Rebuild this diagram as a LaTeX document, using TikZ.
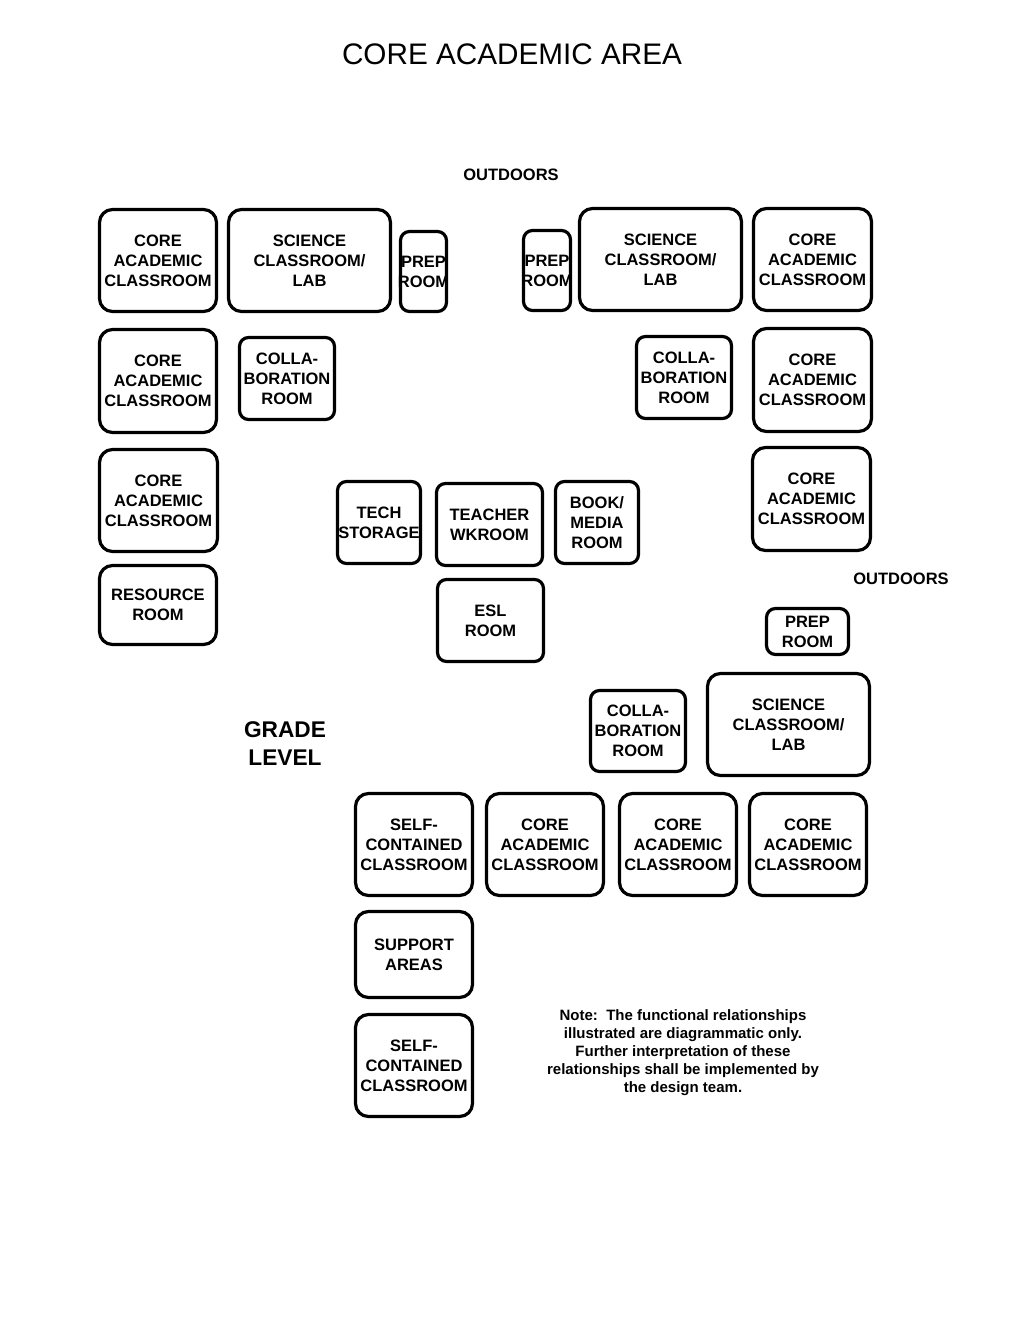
\documentclass[tikz,border=0pt]{standalone}
\usepackage{fontspec}
\setmainfont{Liberation Sans}

\begin{document}
\begin{tikzpicture}[
            x = 1pt, y = -1pt, % one unit = one pixel of the plan
            line width = 3.2pt, % line style
            every node/.style = {
                align = center,
                inner sep = 0pt,
                font = \bfseries\fontsize{16.5}{20}\selectfont
            }
        ]

        \tikzstyle{room}=[
            draw = black,
            rounded corners = 13pt,
            minimum width = 117pt,
            minimum height = 102pt
        ]
        \tikzstyle{small room}=[room, rounded corners = 9pt]

        \useasboundingbox (0,0) rectangle (1024,1325);

        \node[font = \fontsize{29.7}{34}\selectfont] (title) at (512,54) {CORE ACADEMIC AREA};
        \node (outN) at (511,175) {OUTDOORS};
        \node (outE) at (901,579) {OUTDOORS};
        \node[font = \bfseries\fontsize{22.7}{28}\selectfont] (grade) at (285,744) {GRADE\\LEVEL};

        % north wing
        \node[room] (coreA) at (158,260.5) {CORE\\ACADEMIC\\CLASSROOM};
        \node[room, minimum width = 162pt] (sciA) at (309.5,260.5) {SCIENCE\\CLASSROOM/\\LAB};
        \node[small room, minimum width = 46pt, minimum height = 80pt] (prepA) at (423.5,271.5) {};
        \node (prepAtxt) at (prepA) {PREP\\ROOM};
        \node[small room, minimum width = 47pt, minimum height = 80pt] (prepB) at (547,270.5) {};
        \node (prepBtxt) at (prepB) {PREP\\ROOM};
        \node[room, minimum width = 162pt] (sciB) at (660.5,259.5) {SCIENCE\\CLASSROOM/\\LAB};
        \node[room, minimum width = 118pt] (coreB) at (812.5,259.5) {CORE\\ACADEMIC\\CLASSROOM};

        \node[room, minimum height = 103pt] (coreC) at (158,381) {CORE\\ACADEMIC\\CLASSROOM};
        \node[small room, minimum width = 95pt, minimum height = 82pt] (collabA) at (287,378.5) {COLLA-\\BORATION\\ROOM};
        \node[small room, minimum width = 95pt, minimum height = 82pt] (collabB) at (684,377.5) {COLLA-\\BORATION\\ROOM};
        \node[room, minimum width = 118pt, minimum height = 103pt] (coreD) at (812.5,380) {CORE\\ACADEMIC\\CLASSROOM};

        \node[room, minimum width = 118pt] (coreE) at (158.5,500.5) {CORE\\ACADEMIC\\CLASSROOM};
        \node[room, minimum width = 118pt, minimum height = 103pt] (coreF) at (811.5,499) {CORE\\ACADEMIC\\CLASSROOM};
        \node[room, minimum height = 79pt] (resource) at (158,605) {RESOURCE\\ROOM};

        % core support
        \node[small room, minimum width = 83pt, minimum height = 82pt] (tech) at (379,522.5) {TECH\\STORAGE};
        \node[small room, minimum width = 106pt, minimum height = 82pt] (teacher) at (489.5,524.5) {TEACHER\\WKROOM};
        \node[small room, minimum width = 83pt, minimum height = 82pt] (book) at (597,522.5) {BOOK/\\MEDIA\\ROOM};
        \node[small room, minimum width = 106pt, minimum height = 82pt] (esl) at (490.5,620.5) {ESL\\ROOM};

        % east wing
        \node[small room, minimum width = 82pt, minimum height = 46pt] (prepC) at (807.5,631.5) {PREP\\ROOM};
        \node[room, minimum width = 162pt] (sciC) at (788.5,724.5) {SCIENCE\\CLASSROOM/\\LAB};
        \node[small room, minimum width = 95pt, minimum height = 81pt] (collabC) at (638,731) {COLLA-\\BORATION\\ROOM};

        \node[room] (selfA) at (414,844.5) {SELF-\\CONTAINED\\CLASSROOM};
        \node[room] (coreG) at (545,844.5) {CORE\\ACADEMIC\\CLASSROOM};
        \node[room] (coreH) at (678,844.5) {CORE\\ACADEMIC\\CLASSROOM};
        \node[room] (coreI) at (808,844.5) {CORE\\ACADEMIC\\CLASSROOM};
        \node[room, minimum height = 86pt] (support) at (414,954.5) {SUPPORT\\AREAS};
        \node[room] (selfB) at (414,1065.5) {SELF-\\CONTAINED\\CLASSROOM};

        \node[font = \bfseries\fontsize{15}{18}\selectfont] (note) at (683,1053)
            {Note:\ \ The functional relationships\\illustrated are diagrammatic only.\\Further interpretation of these\\relationships shall be implemented by\\the design team.};

  \end{tikzpicture}
\end{document}
